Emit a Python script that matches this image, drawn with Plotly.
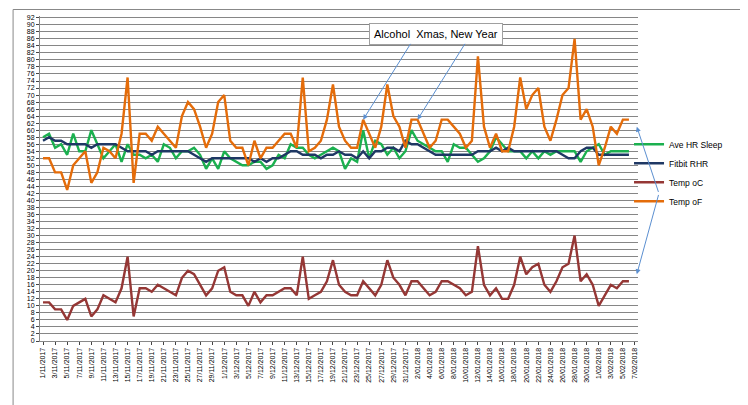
import plotly.graph_objects as go
import datetime as dt

start = dt.date(2017, 11, 1)
dates = [start + dt.timedelta(days=i) for i in range(99)]
labels = [f"{d.day}/{d.month:02d}/{d.year}" for d in dates]

hr_sleep = [58,59,55,56,53,59,54,54,60,56,52,54,56,51,56,53,53,52,53,51,56,55,52,54,54,55,53,49,52,49,
            54,52,51,50,50,51,51,49,50,53,52,56,55,55,53,52,53,54,55,54,49,52,51,60,52,57,56,53,55,52,
            54,60,57,56,55,54,54,51,56,55,55,53,51,52,54,58,56,54,54,54,52,54,52,54,53,54,54,54,54,51,
            54,55,56,53,54,54,54,54,None]
fitbit = [57,58,57,57,56,56,56,56,55,56,56,56,56,55,54,54,54,54,53,54,54,54,54,54,54,53,52,51,52,52,
          52,52,52,52,52,51,52,51,52,52,53,54,54,53,53,53,52,53,53,54,53,53,52,54,52,54,54,55,55,54,
          57,56,56,55,54,53,53,53,53,53,53,53,54,54,54,55,54,55,54,54,54,54,54,54,54,54,53,52,52,54,
          55,55,53,53,53,53,53,53,None]
temp_c = [11,11,9,9,6,10,11,12,7,9,13,12,11,15,24,7,15,15,14,16,15,14,13,18,20,19,16,13,15,20,
          21,14,13,13,10,14,11,13,13,14,15,15,13,24,12,13,14,17,23,16,14,13,13,17,15,13,16,23,18,16,
          13,17,17,15,13,14,17,17,16,15,13,14,27,16,13,15,12,12,16,24,19,21,22,16,14,17,21,22,30,17,
          19,16,10,13,16,15,17,17,None]
temp_f = [52,52,48,48,43,50,52,54,45,48,55,54,52,59,75,45,59,59,57,61,59,57,55,64,68,66,61,55,59,68,
          70,57,55,55,50,57,52,55,55,57,59,59,55,75,54,55,57,63,73,61,57,55,55,63,59,55,61,73,64,61,
          55,63,63,59,55,57,63,63,61,59,55,57,81,61,55,59,54,54,61,75,66,70,72,61,57,63,70,72,86,63,
          66,61,50,55,61,59,63,63,None]

fig = go.Figure()
series = [("Ave HR Sleep", hr_sleep, "#1bb04f"), ("Fitbit RHR", fitbit, "#1f3864"),
          ("Temp oC", temp_c, "#953735"), ("Temp oF", temp_f, "#e46c0a")]
for name, ys, col in series:
    fig.add_trace(go.Scatter(x=labels, y=ys, name=name, mode="lines",
                             line=dict(color=col, width=2.4)))

fig.add_annotation(x=labels[65], y=87.5, text="Alcohol  Xmas, New Year", showarrow=False,
                   font=dict(family="Liberation Sans", size=11, color="black"),
                   bgcolor="white", bordercolor="#a0a0a0", borderwidth=1, borderpad=4)
for xi, yv in [(53, 63), (62, 63)]:
    fig.add_annotation(x=labels[xi], y=yv, ax=labels[xi + 8], ay=85, axref="x", ayref="y",
                       showarrow=True, arrowhead=2, arrowsize=1, arrowwidth=1, arrowcolor="#5b8fd0", text="")
for yv in [61, 19]:
    fig.add_annotation(xref="x domain", x=0.998, y=yv, ax=1.035, ay=42, axref="x domain", ayref="y",
                       showarrow=True, arrowhead=2, arrowwidth=1, arrowcolor="#5b8fd0", text="")

fig.update_layout(
    width=748, height=405, margin=dict(l=32, r=118, t=6, b=72),
    paper_bgcolor="white", plot_bgcolor="white",
    font=dict(family="Liberation Sans", size=8, color="black"),
    showlegend=True,
    legend=dict(x=0.985, y=0.65, xanchor="left", yanchor="top", font=dict(size=8.5),
                tracegroupgap=8, itemwidth=30, bgcolor="rgba(0,0,0,0)"),
    shapes=[dict(type="rect", xref="paper", yref="paper", x0=-0.045, y0=-0.24, x1=1.18, y1=1.02,
                 line=dict(color="#888", width=1))],
)
fig.update_xaxes(type="category", tickvals=labels[::2], ticktext=labels[::2], tickangle=-90,
                 tickfont=dict(size=7), showgrid=False, showline=True, linecolor="#888",
                 ticks="outside", ticklen=3, range=[-0.5, 98.5])
fig.update_yaxes(range=[0, 92.5], tickvals=list(range(0, 93, 2)), tickfont=dict(size=7),
                 showgrid=True, gridcolor="#868686", gridwidth=1, showline=True, linecolor="#888",
                 ticks="outside", ticklen=3, zeroline=False)
fig.write_html("out.html")
